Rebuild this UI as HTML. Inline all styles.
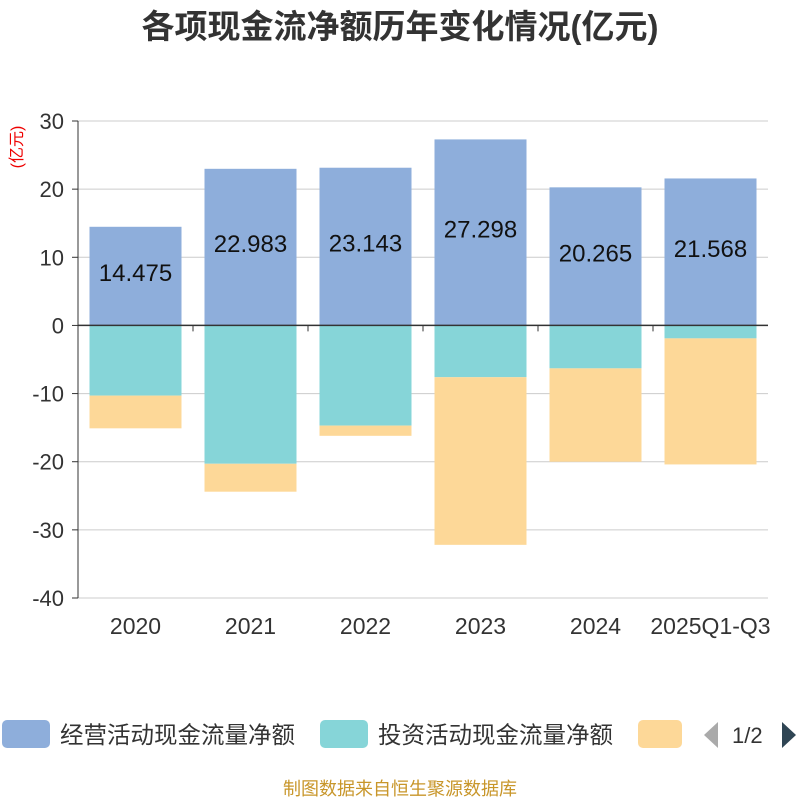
<!DOCTYPE html>
<html><head><meta charset="utf-8">
<style>
body{margin:0;background:#fff;width:800px;height:800px;overflow:hidden;font-family:"Liberation Sans","Noto Sans CJK SC",sans-serif;}
</style></head>
<body>
<svg id="chart" width="800" height="800" xmlns="http://www.w3.org/2000/svg" font-family="Liberation Sans, Noto Sans CJK SC, sans-serif">
<text x="400" y="38" text-anchor="middle" font-size="33" font-weight="bold" fill="#333">各项现金流净额历年变化情况(亿元)</text>
<text x="0" y="0" transform="translate(22,147) rotate(-90)" text-anchor="middle" font-size="16" fill="#e00">(亿元)</text>
<g id="grid"></g><g id="bars"></g><g id="axes"></g>
<g>
<rect x="2" y="720" width="48" height="28" rx="5" fill="#8eaedb"/>
<text x="60" y="743" font-size="23.5" fill="#333">经营活动现金流量净额</text>
<rect x="320" y="720" width="48" height="28" rx="5" fill="#86d5d8"/>
<text x="378" y="743" font-size="23.5" fill="#333">投资活动现金流量净额</text>
<rect x="638" y="720" width="44" height="28" rx="5" fill="#fdd898"/>
<polygon points="718,722 718,748 704,735" fill="#aaa"/>
<text x="732" y="743" font-size="22" fill="#333">1/2</text>
<polygon points="782,722 782,748 796,735" fill="#2f4554"/>
</g>
<text x="400" y="795" text-anchor="middle" font-size="18" fill="#c8962a">制图数据来自恒生聚源数据库</text>
</svg>
<script>
const categories=["2020","2021","2022","2023","2024","2025Q1-Q3"];
const operating=[14.475,22.983,23.143,27.298,20.265,21.568];
const investing=[-10.3,-20.3,-14.7,-7.6,-6.3,-1.9];
const financing=[-4.8,-4.1,-1.5,-24.6,-13.7,-18.5];
const yTicks=[30,20,10,0,-10,-20,-30,-40];
const NS="http://www.w3.org/2000/svg";
const L=78,R=768,T=121,B=598,yMax=30,yMin=-40;
const y=v=>T+(yMax-v)/(yMax-yMin)*(B-T);
const band=(R-L)/categories.length;
const xc=i=>L+band*(i+0.5);
const bw=92;
function mk(tag,attrs,parent){const e=document.createElementNS(NS,tag);for(const k in attrs)e.setAttribute(k,attrs[k]);parent.appendChild(e);return e;}
const grid=document.getElementById('grid'),bars=document.getElementById('bars'),axes=document.getElementById('axes');
yTicks.forEach(t=>{
 const g=mk('line',{x1:L,x2:R,y1:y(t),y2:y(t),stroke:'#ccc','stroke-width':1},grid);
 
 
 const tx=mk('text',{x:L-14,y:y(t)+8,'text-anchor':'end','font-size':22,fill:'#333'},axes);
 tx.textContent=t;
 
 
 const tk=mk('line',{x1:L-6,x2:L,y1:y(t),y2:y(t),stroke:'#333'},axes);
 
 
});
const ya=mk('line',{x1:L,x2:L,y1:T,y2:B,stroke:'#333','stroke-width':1},axes);


const xa=mk('line',{x1:L,x2:R,y1:y(0),y2:y(0),stroke:'#333','stroke-width':1.5},axes);


categories.forEach((c,i)=>{
 const x=xc(i);
 const r1=mk('rect',{x:x-bw/2,y:y(operating[i]),width:bw,height:y(0)-y(operating[i]),fill:'#8eaedb'},bars);
 
 
 const r2=mk('rect',{x:x-bw/2,y:y(0),width:bw,height:y(investing[i])-y(0),fill:'#86d5d8'},bars);
 
 
 const r3=mk('rect',{x:x-bw/2,y:y(investing[i]),width:bw,height:y(investing[i]+financing[i])-y(investing[i]),fill:'#fdd898'},bars);
 
 
 const lb=mk('text',{x:x,y:(y(operating[i])+y(0))/2+5,'text-anchor':'middle','font-size':24,fill:'#111'},bars);
 lb.textContent=operating[i].toFixed(3);
 
 
 const xl=mk('text',{x:x,y:B+36,'text-anchor':'middle','font-size':23,fill:'#333'},axes);
 xl.textContent=c;
 
 
 if(i>0){const tk=mk('line',{x1:L+band*i,x2:L+band*i,y1:y(0),y2:y(0)+6,stroke:'#333'},axes);
 
 }
});
</script>
</body></html>
